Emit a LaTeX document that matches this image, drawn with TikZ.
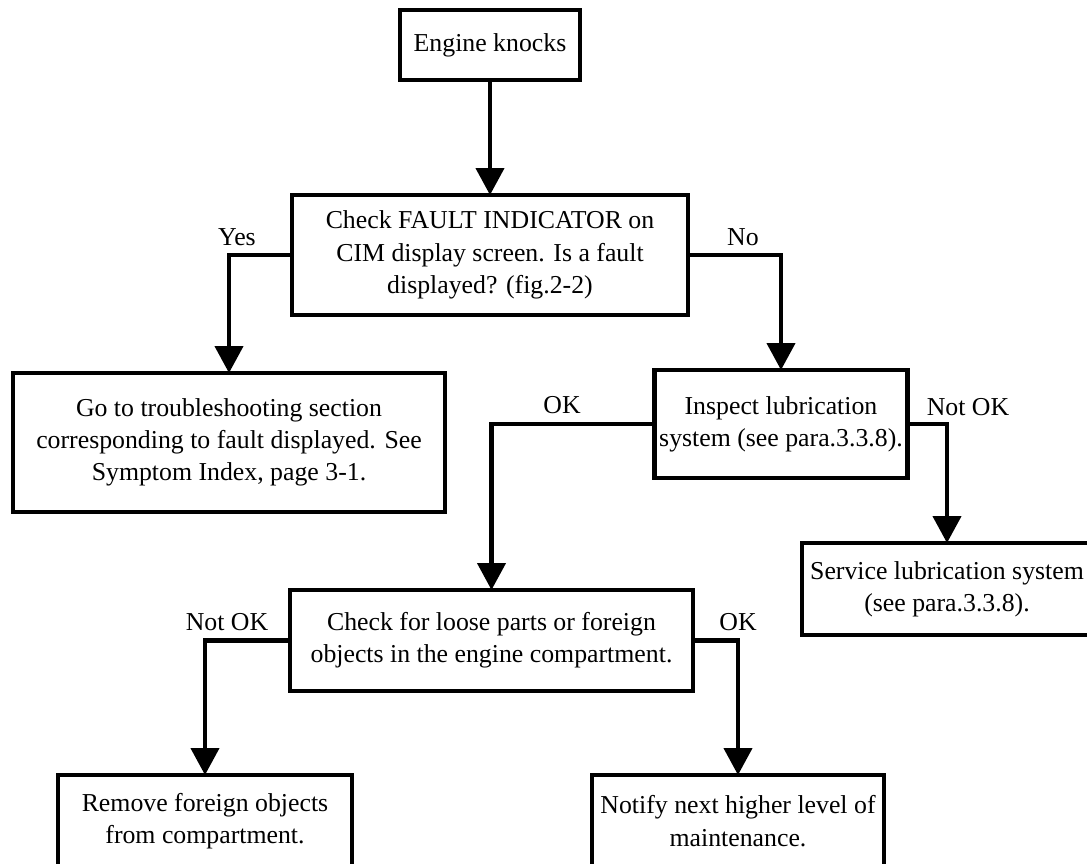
\documentclass[tikz,border=0pt]{standalone}
\usepackage{fontspec}
\setmainfont{Liberation Serif}
\usetikzlibrary{arrows.meta}
\begin{document}
\begin{tikzpicture}[x=1pt,y=-1pt,
  box/.style={draw, line width=4.3pt, inner sep=0pt, outer sep=0pt, align=center,
    font=\fontsize{25.8pt}{32.3pt}\selectfont},
  conn/.style={line width=4.3pt, -{Triangle[width=28pt,length=27pt]}},
  lbl/.style={font=\fontsize{25.8pt}{32.3pt}\selectfont, inner sep=0pt}]
\useasboundingbox (0,0) rectangle (1087,863);
\node[box, minimum width=180pt, minimum height=70pt] (en) at (490,45) {Engine knocks};
\node[box, minimum width=396pt, minimum height=120pt] (chk) at (490,255)
  {Check FAULT INDICATOR on\\CIM display screen. Is a fault\\displayed? (fig.2-2)};
\node[box, minimum width=432pt, minimum height=139pt] (go) at (229,442.5)
  {Go to troubleshooting section\\corresponding to fault displayed. See\\Symptom Index, page 3-1.};
\node[box, minimum width=253pt, minimum height=108pt] (insp) at (781,424)
  {Inspect lubrication\\system (see para.3.3.8).};
\node[box, minimum width=290pt, minimum height=92pt] (svc) at (947,589)
  {Service lubrication system\\(see para.3.3.8).};
\node[box, minimum width=403pt, minimum height=101pt] (loose) at (491.5,640.5)
  {Check for loose parts or foreign\\objects in the engine compartment.};
\node[box, minimum width=294pt, minimum height=92pt] (rem) at (205,821)
  {Remove foreign objects\\from compartment.};
\node[box, minimum width=292pt, minimum height=92pt] (ntf) at (738,821)
  {Notify next higher level of\\maintenance.};

\draw[conn] (en.south) -- (chk.north);
\draw[conn] (chk.west) -| (go.north);
\draw[conn] (chk.east) -| (insp.north);
\draw[conn] (insp.west) -| (loose.north);
\draw[conn] (insp.east) -| (svc.north);
\draw[conn] (loose.west) -| (rem.north);
\draw[conn] (loose.east) -| (ntf.north);

\node[lbl] (lyes) at (237,237) {Yes};
\node[lbl] (lno) at (743,237) {No};
\node[lbl] (lok1) at (562,405) {OK};
\node[lbl] (lnok1) at (968,407) {Not OK};
\node[lbl] (lnok2) at (227,622) {Not OK};
\node[lbl] (lok2) at (738,622) {OK};
\end{tikzpicture}
\end{document}
